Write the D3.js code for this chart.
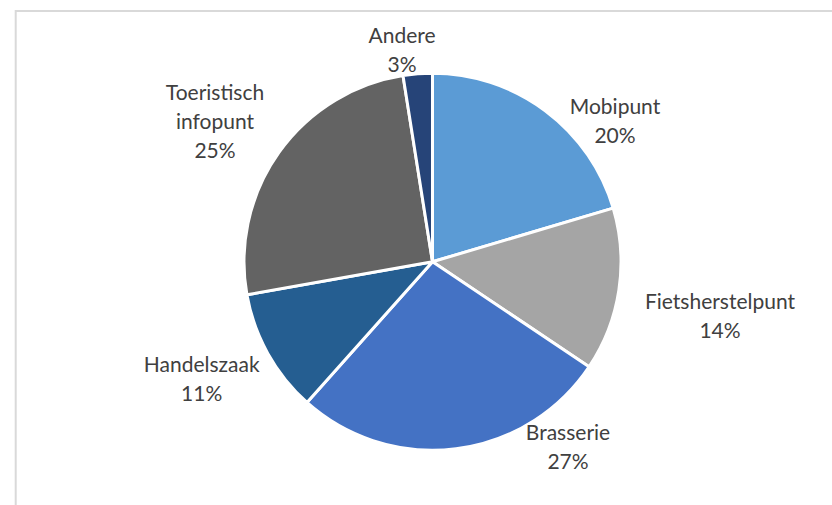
<!DOCTYPE html>
<html>
<head>
<meta charset="utf-8">
<script src="https://cdn.jsdelivr.net/npm/d3@7"></script>
<style>
  html, body { margin: 0; padding: 0; background: #fff; }
  svg { display: block; }
</style>
</head>
<body>
<script>
// data (share in %)
var categories = ['Mobipunt', 'Fietsherstelpunt', 'Brasserie', 'Handelszaak', 'Toeristisch infopunt', 'Andere'];
var values = [20.4, 14.0, 27.2, 10.6, 25.3, 2.5];
var colors = ['#5B9BD5', '#A5A5A5', '#4472C4', '#255E91', '#636363', '#264478'];

// layout
var width = 832,
    height = 505,
    cx = 432.5,
    cy = 261.8,
    radius = 188.5,
    lineH = 29;

// label anchors (first baseline, centred), as offsets from the pie centre
var labelOffsets = [[182.5, -147.5], [287.5, 47.5], [135.5, 178.2], [-230.8, 109.9], [-217.5, -161.8], [-30.5, -219.1]];

var svg = d3.select('body').append('svg')
    .attr('width', width)
    .attr('height', height);

// chart area border (runs off the right and bottom edge)
svg.append('rect')
    .attr('x', 15.7)
    .attr('y', 11)
    .attr('width', width + 20)
    .attr('height', height + 20)
    .attr('fill', 'none')
    .attr('stroke', '#d9d9d9')
    .attr('stroke-width', 2);

var total = d3.sum(values);
var rows = categories.map(function(c, i){ return {name: c, value: values[i], color: colors[i], off: labelOffsets[i]}; });

var pie = d3.pie()
    .sort(null)
    .value(function(d){ return d.value; });

var arc = d3.arc()
    .innerRadius(0)
    .outerRadius(radius);

var g = svg.append('g')
    .attr('transform', 'translate(' + cx + ',' + cy + ')');

g.selectAll('path')
    .data(pie(rows))
    .enter().append('path')
    .attr('d', arc)
    .attr('fill', function(d){ return d.data.color; })
    .attr('stroke', '#fff')
    .attr('stroke-width', 3)
    .attr('stroke-linejoin', 'round');

//DATA LABELS
var labels = g.selectAll('text.label')
    .data(pie(rows))
    .enter().append('text')
    .attr('class', 'label')
    .attr('text-anchor', 'middle')
    .attr('font-family', 'Lato, "Open Sans", sans-serif')
    .attr('font-size', 21)
    .attr('fill', '#404040')
    .attr('transform', function(d){ return 'translate(' + d.data.off[0] + ',' + d.data.off[1] + ')'; });

labels.each(function(d){
  var lines = d.data.name.split(' ');
  lines.push(Math.round(d.data.value / total * 100) + '%');
  var t = d3.select(this);
  lines.forEach(function(l, i){
    t.append('tspan')
      .attr('x', 0)
      .attr('y', i * lineH)
      .text(l);
  });
});
</script>
</body>
</html>
